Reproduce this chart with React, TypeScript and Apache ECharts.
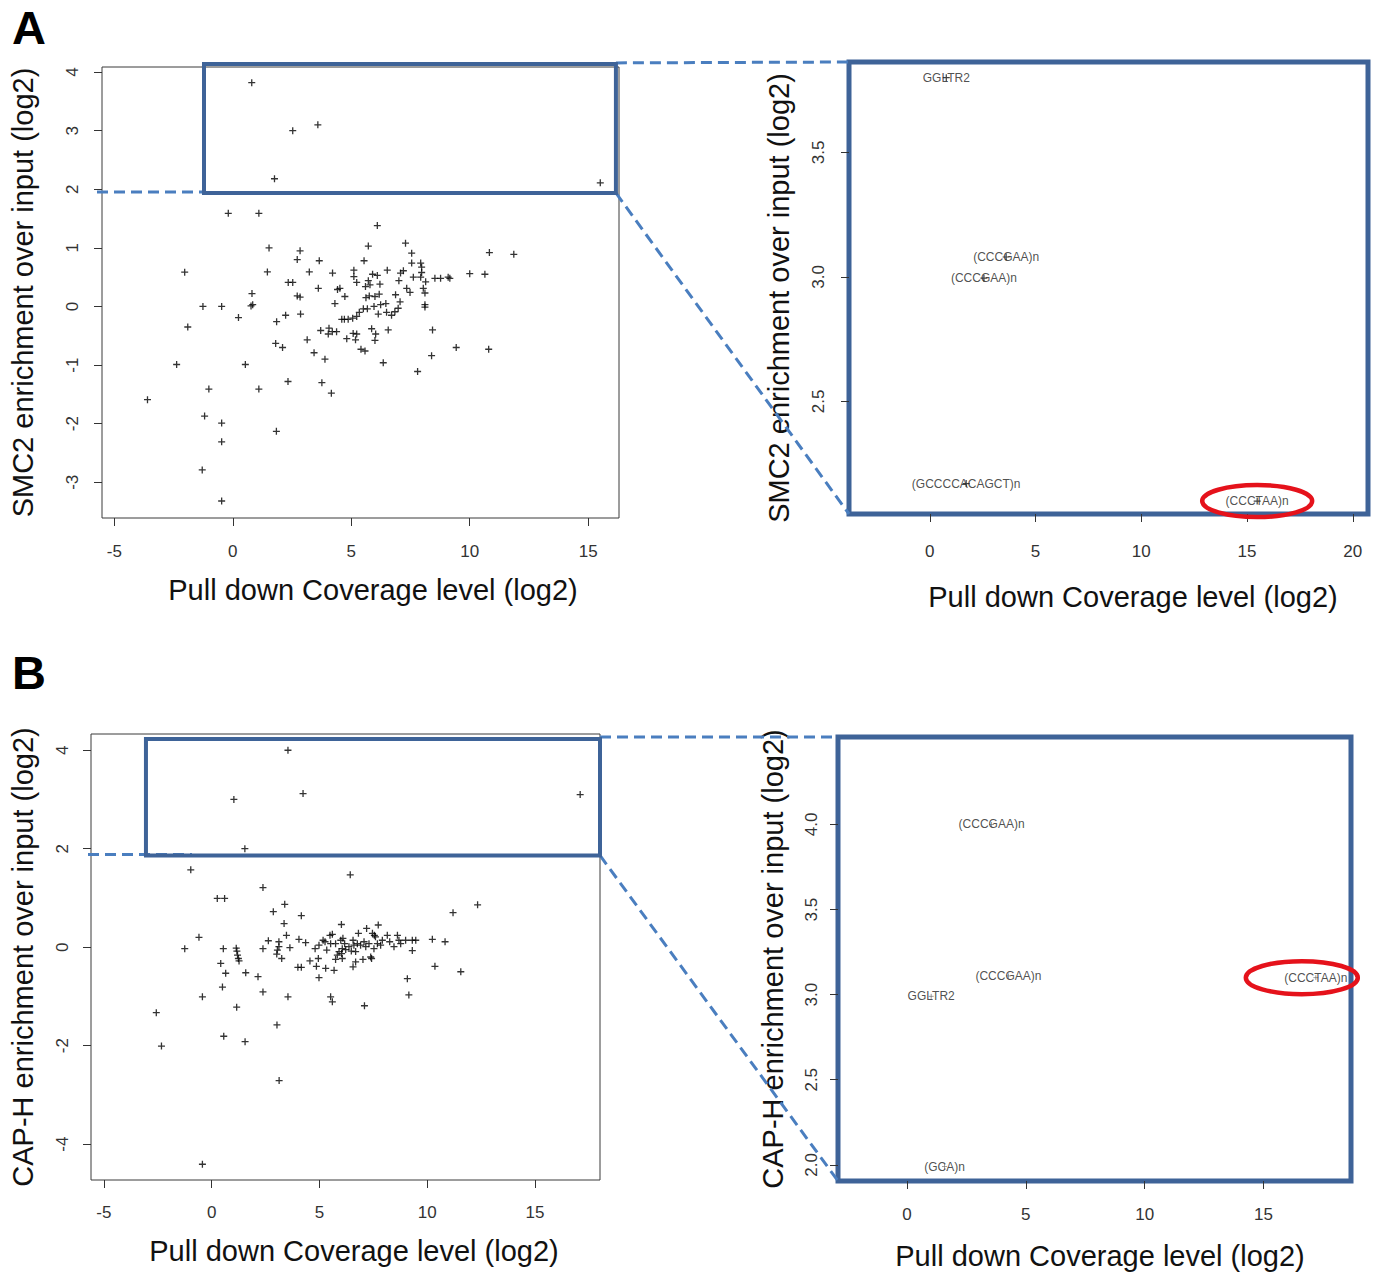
import React, { useEffect, useRef } from 'react';
import * as echarts from 'echarts';

const FONT = '"Liberation Sans", Arial, Helvetica, sans-serif';

// ---------- data (log2 coverage, log2 enrichment) ----------
const smc2Points: number[][] = [
  [0.8, 3.82], [2.53, 3.0], [3.59, 3.1], [1.76, 2.18], [15.51, 2.11],
  [-0.19, 1.59], [1.1, 1.59], [6.1, 1.38],
  [1.53, 1.0], [2.84, 0.95], [2.72, 0.8], [3.65, 0.78], [5.72, 1.03], [7.29, 1.08], [7.55, 0.91], [5.54, 0.78],
  [7.55, 0.74], [7.93, 0.74], [7.97, 0.67],
  [10.83, 0.92], [11.86, 0.89], [10.0, 0.56], [10.64, 0.55],
  [-2.03, 0.585], [1.46, 0.59], [3.23, 0.59], [4.21, 0.57], [5.11, 0.62], [5.11, 0.51], [5.23, 0.41], [5.9, 0.55],
  [6.1, 0.53], [6.52, 0.62], [5.72, 0.44], [5.79, 0.37], [5.6, 0.34], [6.21, 0.38], [7.08, 0.57], [7.2, 0.61],
  [7.01, 0.44], [7.62, 0.5], [7.93, 0.5], [7.97, 0.58], [8.14, 0.42], [8.53, 0.48], [8.77, 0.48], [9.09, 0.5], [9.16, 0.48],
  [2.34, 0.41], [2.53, 0.41], [3.61, 0.31], [4.42, 0.29], [4.52, 0.31], [4.73, 0.17], [2.72, 0.18], [2.84, 0.16],
  [4.31, 0.05], [5.62, 0.15], [5.76, 0.18], [6.0, 0.17], [6.18, 0.21], [6.87, 0.2], [7.34, 0.31], [7.48, 0.24],
  [8.04, 0.31], [8.11, 0.23], [7.06, 0.08], [6.98, -0.03], [8.11, 0.03], [8.11, -0.01], [5.96, 0.0], [6.24, 0.03],
  [6.46, 0.05], [6.14, -0.13], [6.49, -0.1], [6.7, -0.15], [6.84, -0.09], [5.51, -0.04], [5.68, -0.04], [5.34, -0.1],
  [5.23, -0.17], [5.06, -0.2], [4.87, -0.22], [4.71, -0.22], [4.6, -0.22],
  [0.81, 0.22], [0.77, 0.01], [0.84, 0.03], [-1.26, 0.0], [-0.47, 0.0], [0.24, -0.19], [-1.9, -0.35],
  [2.23, -0.15], [2.86, -0.13], [1.85, -0.26], [3.71, -0.41], [4.06, -0.37], [4.03, -0.47], [4.2, -0.43], [4.38, -0.43],
  [4.81, -0.55], [5.08, -0.46], [5.23, -0.47], [5.18, -0.57], [5.86, -0.38], [6.03, -0.47], [6.0, -0.58], [6.56, -0.4],
  [8.43, -0.4], [3.14, -0.57], [1.81, -0.63], [2.1, -0.7], [3.43, -0.79], [3.89, -0.9], [5.41, -0.73], [5.58, -0.76],
  [6.35, -0.96], [8.39, -0.84],
  [9.43, -0.7], [10.8, -0.73], [7.8, -1.11], [-2.37, -0.99], [0.53, -0.99], [2.33, -1.28], [3.76, -1.3], [4.16, -1.48],
  [-1.01, -1.41], [1.1, -1.41], [-3.6, -1.59], [-1.19, -1.87], [-0.47, -1.99], [-0.47, -2.31], [1.84, -2.13],
  [-1.29, -2.79], [-0.47, -3.32],
];

const caphPoints: number[][] = [
  [3.54, 4.0], [1.03, 3.0], [4.24, 3.12], [17.1, 3.1], [1.54, 2.0],
  [-0.97, 1.57], [6.43, 1.47], [2.38, 1.21], [0.26, 0.99], [0.6, 0.99], [12.34, 0.86], [11.2, 0.7],
  [3.39, 0.87], [2.86, 0.72], [4.16, 0.64], [3.36, 0.48], [6.02, 0.46], [7.73, 0.45], [7.19, 0.38], [3.47, 0.24],
  [7.46, 0.28], [7.55, 0.24], [7.6, 0.21], [6.81, 0.28], [2.63, 0.13], [3.12, 0.11], [4.05, 0.16], [4.36, 0.09],
  [3.12, 0.01], [3.63, -0.01], [3.05, -0.06], [3.02, -0.14], [3.25, -0.23], [4.0, -0.41], [4.16, -0.41], [4.56, -0.28],
  [4.95, -0.23], [4.86, -0.39], [5.29, -0.43], [5.68, -0.47], [4.98, -0.62], [4.8, -0.03], [4.98, 0.04], [5.17, 0.14],
  [5.26, 0.11], [5.49, 0.24], [5.6, 0.26], [5.34, -0.06], [5.52, 0.07], [5.75, 0.07], [5.99, 0.14], [6.09, 0.18],
  [6.17, 0.07], [6.06, -0.03], [5.91, -0.09], [6.03, -0.13], [5.83, -0.16], [5.75, -0.25], [6.06, -0.23], [6.22, -0.05],
  [6.37, 0.01], [6.56, 0.14], [6.6, 0.04], [6.76, 0.07], [6.48, -0.08], [6.68, -0.09], [6.56, -0.4], [6.68, -0.3],
  [7.02, -0.25], [6.91, 0.04], [7.07, 0.11], [7.15, 0.01], [7.3, 0.07], [7.38, -0.2], [7.42, -0.23], [7.53, -0.03],
  [7.69, 0.07], [7.84, 0.04], [7.92, 0.14], [8.15, 0.24], [8.26, 0.11], [8.46, 0.01], [8.62, 0.24], [8.69, 0.14],
  [8.77, 0.07], [9.0, 0.14], [9.31, 0.14], [9.47, 0.14], [9.31, -0.07], [10.24, 0.16], [10.83, 0.11], [10.36, -0.39],
  [9.08, -0.64],
  [-0.59, 0.2], [-1.25, -0.03], [0.54, -0.03], [1.14, -0.02], [1.17, -0.08], [1.2, -0.16], [1.24, -0.23], [1.27, -0.28],
  [2.38, -0.03], [0.42, -0.33], [0.65, -0.53], [1.58, -0.52], [2.15, -0.6], [0.5, -0.81], [-0.43, -1.01], [2.38, -0.91],
  [1.16, -1.22], [3.54, -1.01],
  [11.56, -0.5], [9.15, -0.97], [7.09, -1.19], [5.52, -1.01], [5.6, -1.11], [3.03, -1.58], [0.56, -1.81], [1.55, -1.92],
  [-2.57, -1.33], [-2.33, -2.01], [3.13, -2.71], [-0.43, -4.41],
];

// labelled repeats in the enlarged panels
const smc2TopNames = ['GGLTR2', '(CCCGAA)n', '(CCCGAA)n', '(GCCCCACAGCT)n', '(CCCTAA)n'];
const smc2TopX = [0.78, 3.61, 2.56, 1.72, 15.48];
const smc2TopY = [3.8, 3.08, 2.995, 2.17, 2.1];

const caphTopNames = ['(CCCGAA)n', '(CCCGAA)n', 'GGLTR2', '(GCA)n', '(CCCTAA)n'];
const caphTopX = [3.56, 4.27, 1.02, 1.58, 17.2];
const caphTopY = [4.0, 3.11, 2.99, 1.99, 3.1];

// highlighted (enlarged) region in each overview panel: xMin, xMax, yMin, yMax
const smc2Highlight = [-1.215, 16.17, 1.937, 4.14];
const caphHighlight = [-3.05, 18.02, 1.864, 4.23];

// tick values
const smc2XTicks = [-5, 0, 5, 10, 15];
const smc2YTicks = [-3, -2, -1, 0, 1, 2, 3, 4];
const smc2ZoomXTicks = [0, 5, 10, 15, 20];
const smc2ZoomYTicks = [2.5, 3.0, 3.5];
const caphXTicks = [-5, 0, 5, 10, 15];
const caphYTicks = [-4, -2, 0, 2, 4];
const caphZoomXTicks = [0, 5, 10, 15];
const caphZoomYTicks = [2.0, 2.5, 3.0, 3.5, 4.0];

const xTitle = 'Pull down Coverage level (log2)';
const smc2YTitle = 'SMC2 enrichment over input (log2)';
const caphYTitle = 'CAP-H enrichment over input (log2)';

// ---------- layout / style ----------
const CROSS = 'path://M0,3.5L7,3.5M3.5,0L3.5,7';
const BOX_BLUE = '#3e6398';
const DASH_BLUE = '#4a7ebf';
const RED = '#e5121b';

const grids = [
  { left: 102, top: 67, width: 517, height: 451 },
  { left: 849, top: 62, width: 519, height: 452 },
  { left: 91, top: 734, width: 509, height: 446 },
  { left: 838, top: 737, width: 513, height: 444 },
];
const xRanges = [[-5.52, 16.3], [-3.82, 20.72], [-5.6, 18.02], [-2.9, 18.68]];
const yRanges = [[-3.61, 4.087], [2.048, 3.863], [-4.73, 4.33], [1.905, 4.514]];

function xAxis(i: number, ticks: number[], margin: number, nameGap: number, padL: number) {
  return {
    type: 'value', gridIndex: i, min: xRanges[i][0], max: xRanges[i][1], position: 'bottom',
    axisLine: { show: false, onZero: false },
    axisTick: { show: true, customValues: ticks, length: 8, lineStyle: { color: '#333', width: 1 } },
    axisLabel: { customValues: ticks, margin, fontSize: 17, color: '#333', fontFamily: FONT },
    splitLine: { show: false },
    name: xTitle, nameLocation: 'middle', nameGap,
    nameTextStyle: { fontSize: 29, fontFamily: FONT, color: '#111', padding: [0, 0, 0, padL] },
  };
}

function yAxis(i: number, ticks: number[], margin: number, name: string, nameGap: number, decimals: number, padR: number) {
  return {
    type: 'value', gridIndex: i, min: yRanges[i][0], max: yRanges[i][1], position: 'left',
    axisLine: { show: false, onZero: false },
    axisTick: { show: true, customValues: ticks, length: 8, lineStyle: { color: '#333', width: 1 } },
    axisLabel: {
      customValues: ticks, margin, rotate: 90, fontSize: 17, color: '#333', fontFamily: FONT,
      formatter: (v: number) => v.toFixed(decimals),
    },
    splitLine: { show: false },
    name, nameLocation: 'middle', nameGap, nameRotate: 90,
    nameTextStyle: { fontSize: 29, fontFamily: FONT, color: '#111', padding: [0, padR, 0, 0] },
  };
}

function labelled(names: string[], xs: number[], ys: number[]) {
  return names.map((n, i) => ({ name: n, value: [xs[i], ys[i]] }));
}

export default function App() {
  const ref = useRef<HTMLDivElement>(null);

  useEffect(() => {
    if (!ref.current) return;
    const chart = echarts.init(ref.current, null, { renderer: 'svg' });

    const option: any = {
      animation: false,
      backgroundColor: '#ffffff',
      grid: grids.map((g, i) => ({
        ...g, show: true, backgroundColor: 'transparent',
        borderColor: i % 2 === 0 ? '#3a3a3a' : BOX_BLUE, borderWidth: i % 2 === 0 ? 1 : 5,
      })),
      xAxis: [
        xAxis(0, smc2XTicks, 25, 57, 25),
        xAxis(1, smc2ZoomXTicks, 29, 68, 49),
        xAxis(2, caphXTicks, 24, 56, 17),
        xAxis(3, caphZoomXTicks, 25, 60, 11),
      ],
      yAxis: [
        yAxis(0, smc2YTicks, 21, smc2YTitle, 65, 0, 0),
        yAxis(1, smc2ZoomYTicks, 22, smc2YTitle, 56, 1, 20),
        yAxis(2, caphYTicks, 20, caphYTitle, 54, 0, 0),
        yAxis(3, caphZoomYTicks, 18, caphYTitle, 51, 1, 0),
      ],
      series: [
        {
          type: 'scatter', xAxisIndex: 0, yAxisIndex: 0, data: smc2Points,
          symbol: CROSS, symbolSize: 7,
          itemStyle: { color: 'rgba(0,0,0,0)', borderColor: '#000', borderWidth: 1.3 },
        },
        {
          type: 'scatter', xAxisIndex: 1, yAxisIndex: 1, data: labelled(smc2TopNames, smc2TopX, smc2TopY),
          symbol: CROSS, symbolSize: 7,
          itemStyle: { color: 'rgba(0,0,0,0)', borderColor: '#111', borderWidth: 1.2 },
          label: { show: true, position: 'inside', formatter: '{b}', fontSize: 12, color: '#222', fontFamily: FONT },
        },
        {
          type: 'scatter', xAxisIndex: 2, yAxisIndex: 2, data: caphPoints,
          symbol: CROSS, symbolSize: 7,
          itemStyle: { color: 'rgba(0,0,0,0)', borderColor: '#000', borderWidth: 1.3 },
        },
        {
          type: 'scatter', xAxisIndex: 3, yAxisIndex: 3, data: labelled(caphTopNames, caphTopX, caphTopY),
          symbol: CROSS, symbolSize: 5,
          itemStyle: { color: 'rgba(0,0,0,0)', borderColor: '#666', borderWidth: 0.8 },
          label: { show: true, position: 'inside', formatter: '{b}', fontSize: 12, color: '#222', fontFamily: FONT },
        },
      ],
    };
    chart.setOption(option);

    const px = (gi: number, x: number, y: number) =>
      chart.convertToPixel({ gridIndex: gi } as any, [x, y]) as unknown as number[];

    const dash = { stroke: DASH_BLUE, lineWidth: 3, lineDash: [11, 6] };
    const elements: any[] = [];

    const addZoom = (src: number, dst: number, hl: number[], leftStartPad: number, leftEndExtra: number, topLift: number) => {
      const tl = px(src, hl[0], hl[3]);
      const br = px(src, hl[1], hl[2]);
      const g = grids[dst];
      const gs = grids[src];
      elements.push({
        type: 'rect', z: 10,
        shape: { x: tl[0], y: tl[1], width: br[0] - tl[0], height: br[1] - tl[1] },
        style: { fill: 'none', stroke: BOX_BLUE, lineWidth: 4 },
      });
      elements.push({
        type: 'line', z: 9,
        shape: { x1: br[0], y1: tl[1] - topLift, x2: g.left, y2: g.top },
        style: dash,
      });
      elements.push({
        type: 'line', z: 9,
        shape: { x1: br[0], y1: br[1], x2: g.left, y2: g.top + g.height },
        style: dash,
      });
      elements.push({
        type: 'line', z: 9,
        shape: { x1: gs.left - leftStartPad, y1: br[1] - 1, x2: tl[0] + leftEndExtra, y2: br[1] - 1 },
        style: dash,
      });
    };
    addZoom(0, 1, smc2Highlight, 5, 0, 1);
    addZoom(2, 3, caphHighlight, 3, 46, 2);

    const eA = px(1, smc2TopX[4], smc2TopY[4]);
    const eB = px(3, caphTopX[4], caphTopY[4]);
    elements.push({
      type: 'ellipse', z: 11, shape: { cx: eA[0], cy: eA[1], rx: 55, ry: 16 },
      style: { fill: 'none', stroke: RED, lineWidth: 4.5 },
    });
    elements.push({
      type: 'ellipse', z: 11, shape: { cx: eB[0] - 14, cy: eB[1], rx: 56, ry: 16.5 },
      style: { fill: 'none', stroke: RED, lineWidth: 4.5 },
    });

    elements.push({
      type: 'text', x: 12, y: 27,
      style: { text: 'A', fontSize: 47, fontWeight: 'bold', fontFamily: FONT, fill: '#000', verticalAlign: 'middle' },
    });
    elements.push({
      type: 'text', x: 12, y: 672,
      style: { text: 'B', fontSize: 47, fontWeight: 'bold', fontFamily: FONT, fill: '#000', verticalAlign: 'middle' },
    });

    chart.setOption({ graphic: elements });

    return () => chart.dispose();
  }, []);

  return (
    <div
      ref={ref}
      style={{ position: 'absolute', left: 0, top: 0, width: 1381, height: 1273, background: '#fff' }}
    />
  );
}
